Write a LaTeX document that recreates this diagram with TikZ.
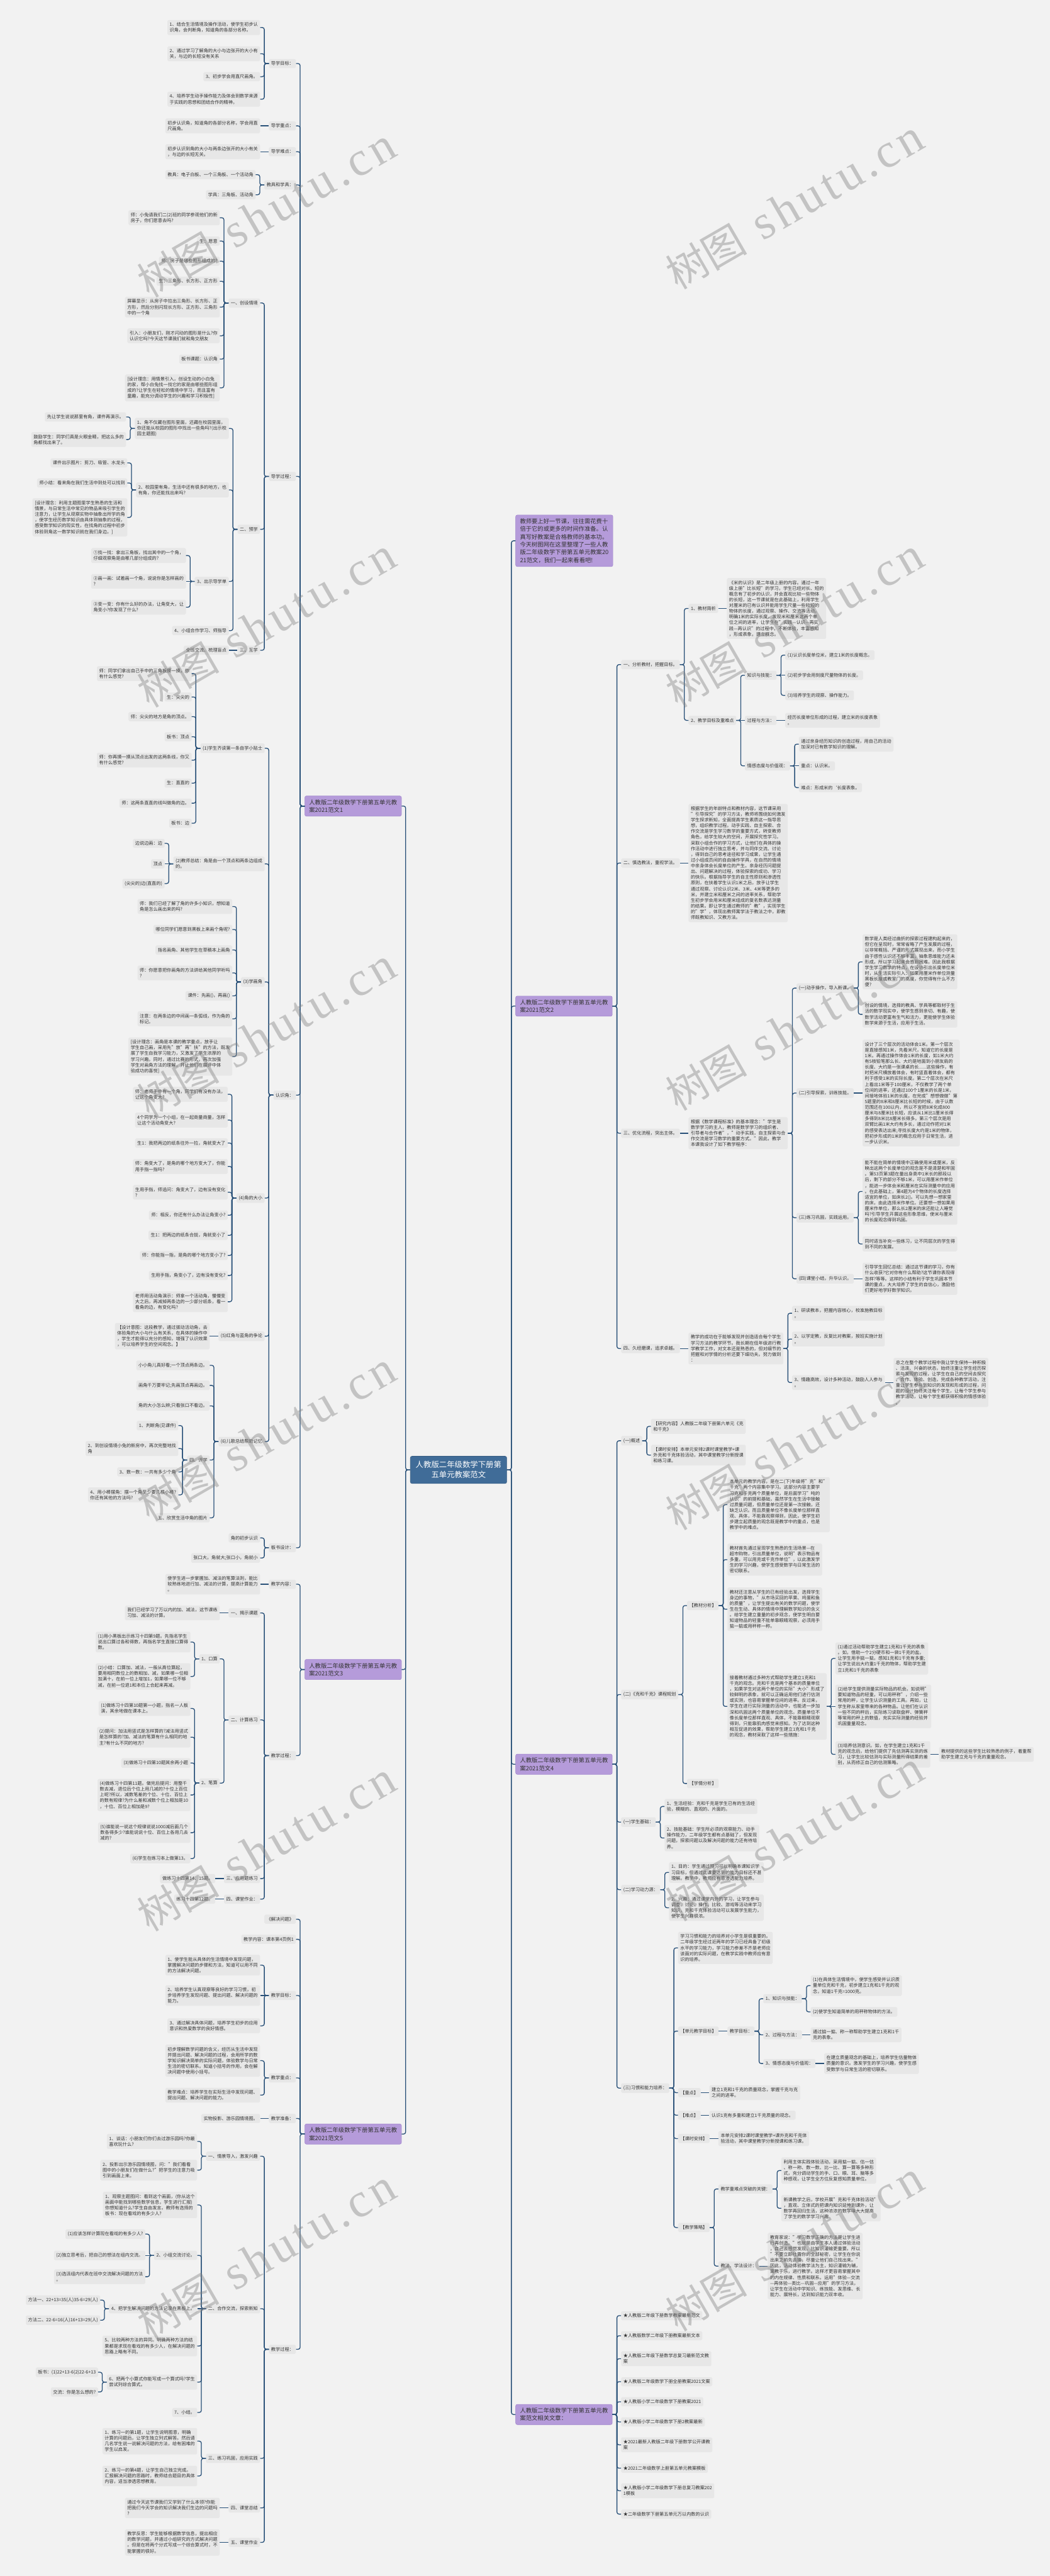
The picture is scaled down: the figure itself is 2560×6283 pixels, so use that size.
\documentclass[tikz,border=0pt]{standalone}
\usepackage{fontspec}
\setmainfont{Noto Sans CJK SC}
\newfontfamily\wmlatin[LetterSpace=8]{Liberation Serif}
\usetikzlibrary{calc}
\definecolor{bgc}{RGB}{242,242,242}
\definecolor{nodefill}{RGB}{231,231,231}
\definecolor{txt}{RGB}{51,51,51}
\definecolor{linec}{RGB}{40,80,120}
\definecolor{purp}{RGB}{181,155,218}
\definecolor{purpd}{RGB}{160,132,205}
\definecolor{rootc}{RGB}{64,108,152}
\definecolor{wmc}{RGB}{130,130,130}
\tikzset{
 box/.style={fill=nodefill, rounded corners=3pt, inner xsep=5.5pt, inner ysep=6pt, align=left, font=\fontsize{11}{14}\selectfont, text=txt},
 pbox/.style={fill=purp, draw=purpd, line width=0.8pt, rounded corners=4pt, inner xsep=10.5pt, inner ysep=8.5pt, align=left, font=\fontsize{14.3}{19}\selectfont, text=txt},
 rootbox/.style={fill=rootc, draw=rootc!85!black, line width=0.8pt, rounded corners=4pt, inner xsep=13pt, inner ysep=12pt, align=center, font=\fontsize{19}{24.7}\selectfont, text=white},
 conn/.style={draw=linec, line width=2pt, rounded corners=5pt},
 wm/.style={rotate=30, text=wmc, text opacity=0.42, inner sep=0pt, font=\fontsize{100}{100}\selectfont}
}
% left child: style, name, parent, y, text
\newcommand\LN[5][box]{\path let \p1=(#3.west) in node[#1,anchor=east] (#2) at (\x1-21pt,-#4pt) {#5};\draw[conn] (#3.west) -- ++(-11pt,0) |- (#2.east);}
\newcommand\LNs[4][box]{\path let \p1=(#3.west) in node[#1,anchor=east] (#2) at (\x1-21pt,\y1) {#4};\draw[conn] (#3.west) -- (#2.east);}
\newcommand\RN[5][box]{\path let \p1=(#3.east) in node[#1,anchor=west] (#2) at (\x1+21pt,-#4pt) {#5};\draw[conn] (#3.east) -- ++(11pt,0) |- (#2.west);}
\newcommand\RNs[4][box]{\path let \p1=(#3.east) in node[#1,anchor=west] (#2) at (\x1+21pt,\y1) {#4};\draw[conn] (#3.east) -- (#2.west);}
\begin{document}
\begin{tikzpicture}
\useasboundingbox (0,0) rectangle (2560pt,-6283pt);
\fill[bgc] (0,0) rectangle (2560pt,-6283pt);
\node[rootbox] (root) at (1118pt,-3585pt) {人教版二年级数学下册第\\五单元教案范文};
%================ 范文1 ================
\LN[pbox]{fa}{root}{1966}{人教版二年级数学下册第五单元教\\案2021范文1}
\LN{a1}{fa}{155}{导学目标：}
\LN{a1a}{a1}{67}{1、结合生活情境及操作活动，使学生初步认\\识角，会判断角，知道角的各部分名称。}
\LN{a1b}{a1}{131}{2、通过学习了解角的大小与边张开的大小有\\关，与边的长短没有关系}
\LN{a1c}{a1}{187}{3、初步学会用直尺画角。}
\LN{a1d}{a1}{242}{4、培养学生动手操作能力及体会到数学来源\\于实践的思想和团结合作的精神。}
\LN{a2}{fa}{307}{导学重点：}
\LNs{a2a}{a2}{初步认识角，知道角的各部分名称，学会用直\\尺画角。}
\LN{a3}{fa}{370}{导学难点：}
\LNs{a3a}{a3}{初步认识到角的大小与两条边张开的大小有关\\，与边的长短无关。}
\LN{a4}{fa}{451}{教具和学具：}
\LN{a4a}{a4}{426}{教具：电子白板、一个三角板、一个活动角}
\LN{a4b}{a4}{475}{学具：三角板、活动角}
\LN{a5}{fa}{1162}{导学过程：}
\LN{a51}{a5}{739}{一、创设情境}
\LN{a51a}{a51}{531}{师：小兔请我们二(2)班的同学参观他们的新\\房子，你们愿意去吗?}
\LN{a51b}{a51}{588}{生：愿意}
\LN{a51c}{a51}{637}{师：房子是哪些图形组成的?}
\LN{a51d}{a51}{686}{生：三角形、长方形、正方形}
\LN{a51e}{a51}{749}{屏幕显示：从房子中拉出三角形、长方形、正\\方形，然后分别闪现长方形、正方形、三角形\\中的一个角}
\LN{a51f}{a51}{819}{引入：小朋友们，刚才闪动的图形是什么?你\\认识它吗?今天这节课我们就和角交朋友}
\LN{a51g}{a51}{876}{板书课题：认识角}
\LN{a51h}{a51}{946}{[设计理念：用情景引入，创设生动的小白兔\\的家，帮小白兔找一找它的家是由哪些图形组\\成的?让学生在轻松的情境中学习，而且富有\\童趣，能充分调动学生的兴趣和学习积极性]}
\LN{a52}{a5}{1291}{二、预学}
\LN{a52a}{a52}{1045}{1、角不仅藏在图形里面，还藏在校园里面，\\你还能从校园的图形中找出一些角吗?(出示校\\园主题图)}
\LN{a52a1}{a52a}{1017}{先让学生说说那里有角，课件再演示。}
\LN{a52a2}{a52a}{1072}{鼓励学生：同学们真是火眼金睛，把这么多的\\角都找出来了。}
\LN{a52b}{a52}{1195}{2、校园里有角，生活中还有很多的地方，也\\有角，你还能找出来吗?}
\LN{a52b1}{a52b}{1129}{课件出示图片：剪刀、吸管、水龙头}
\LN{a52b2}{a52b}{1178}{师小结：看来角在我们生活中到处可以找到}
\LN{a52b3}{a52b}{1262}{[设计理念：利用主题图里学生熟悉的生活和\\情景，与日常生活中常见的物品来吸引学生的\\注意力，让学生从观察实物中抽象出所学的角\\，使学生经历数学知识由具体到抽象的过程，\\感受数学知识的现实性，在找角的过程中初步\\体验到角这一数学知识就在我们身边。]}
\LN{a52c}{a52}{1418}{3、出示导学单}
\LN{a52c1}{a52c}{1355}{①找一找：拿出三角板，找出其中的一个角，\\仔细观察角是由哪几部分组成的?}
\LNs{a52c2}{a52c}{②画一画：试着画一个角，说说你是怎样画的\\?}
\LN{a52c3}{a52c}{1481}{③变一变：你有什么好的办法，让角变大，让\\角变小?你发现了什么?}
\LN{a52d}{a52}{1538}{4、小组合作学习、师指导}
\LN{a53}{a5}{1586}{三、互学}
\LNs{a53a}{a53}{全班交流、梳理盲点}
\LN{a6}{fa}{2671}{认识角：}
\LN{a61}{a6}{1825}{(1)学生齐读第一条自学小贴士}
\LN{a61a}{a61}{1643}{师：同学们拿出自己手中的三角板摸一摸，你\\有什么感觉?}
\LN{a61b}{a61}{1700}{生：尖尖的}
\LN{a61c}{a61}{1748}{师：尖尖的地方是角的顶点。}
\LN{a61d}{a61}{1797}{板书：顶点}
\LN{a61e}{a61}{1854}{师：你再摸一摸从顶点出发的这两条线，你又\\有什么感觉?}
\LN{a61f}{a61}{1910}{生：直直的}
\LN{a61g}{a61}{1959}{师：这两条直直的线叫做角的边。}
\LN{a61h}{a61}{2008}{板书：边}
\LN{a62}{a6}{2107}{(2)教师总结：角是由一个顶点和两条边组成\\的。}
\LN{a62a}{a62}{2057}{边说边画：边}
\LNs{a62b}{a62}{顶点}
\LN{a62c}{a62}{2155}{(尖尖的)边(直直的)}
\LN{a63}{a6}{2395}{(3)学画角}
\LN{a63a}{a63}{2211}{师：我们已经了解了角的许多小知识，想知道\\角是怎么画出来的吗?}
\LN{a63b}{a63}{2267}{哪位同学们愿意到黑板上来画个角呢?}
\LN{a63c}{a63}{2317}{指名画角、其他学生在草稿本上画角}
\LN{a63d}{a63}{2373}{师：你愿意把你画角的方法讲给其他同学听吗\\?}
\LN{a63e}{a63}{2429}{课件：先画()，再画()}
\LN{a63f}{a63}{2485}{注意：在两条边的中间画一条弧线，作为角的\\标记。}
\LN{a63g}{a63}{2577}{[设计理念：画角是本课的教学重点，放手让\\学生自己画，采用先"放"再"扶"的方法，既发\\展了学生自我学习能力，又激发了学生浓厚的\\学习兴趣。同时，通过比赛的形式，再次加强\\学生对画角方法的理解，并让他们在展评中体\\验成功的喜悦]}
\LN{a64}{a6}{2922}{(4)角的大小}
\LN{a64a}{a64}{2669}{师：老师手中有一个角，同学们有没有办法，\\让这个角变大?}
\LN{a64b}{a64}{2732}{4个同学为一个小组，在一起商量商量，怎样\\让这个活动角变大?}
\LN{a64c}{a64}{2788}{生1：我把两边的纸条往外一拉，角就变大了}
\LN{a64d}{a64}{2845}{师：角变大了，是角的哪个地方变大了，你能\\用手指一指吗?}
\LN{a64e}{a64}{2908}{生用手指，师追问：角变大了，边有没有变化\\?}
\LN{a64f}{a64}{2964}{师：相反，你还有什么办法让角变小?}
\LN{a64g}{a64}{3013}{生1：把两边的纸条合拢，角就变小了}
\LN{a64h}{a64}{3062}{师：你能指一指，是角的哪个地方变小了?}
\LN{a64i}{a64}{3111}{生用手指，角变小了，边有没有变化?}
\LN{a64j}{a64}{3175}{老师用活动角演示：师拿一个活动角，慢慢变\\大之后，再减掉两条边的一少部分纸条，看一\\看角的边，有变化吗?}
\LN{a65}{a6}{3259}{(5)红角与蓝角的争论}
\LNs{a65a}{a65}{【设计意图：这段教学，通过拔动活动角，去\\体验角的大小与什么有关系，在具体的操作中\\，学生才能得以充分的感知，增强了认识效果\\，可以培养学生的空间观念。】}
\LN{a66}{a6}{3516}{(6)儿歌总结帮助记忆}
\LN{a66a}{a66}{3330}{小小角儿真好看;一个顶点两条边。}
\LN{a66b}{a66}{3379}{画角千万要牢记;先画顶点再画边。}
\LN{a66c}{a66}{3429}{角的大小怎么辨;只看张口不看边。}
\LN{a66d}{a66}{3561}{四、评学}
\LN{a66d1}{a66d}{3477}{1、判断角(见课件)}
\LN{a66d2}{a66d}{3533}{2、到创设情境小兔的新房中，再次完整地找\\角}
\LN{a66d3}{a66d}{3590}{3、数一数：一共有多少个角}
\LN{a66d4}{a66d}{3646}{4、用小棒摆角：摆一个角至少要几根小棒?\\你还有其他的方法吗?}
\LN{a66e}{a66}{3702}{五、欣赏生活中角的图片}
\LN{a7}{fa}{3775}{板书设计：}
\LN{a7a}{a7}{3751}{角的初步认识}
\LN{a7b}{a7}{3800}{张口大，角就大;张口小，角就小}
%================ 范文3 ================
\LN[pbox]{fc}{root}{4072}{人教版二年级数学下册第五单元教\\案2021范文3}
\LN{c1}{fc}{3864}{教学内容：}
\LNs{c1a}{c1}{使学生进一步掌握加、减法的笔算法则，能比\\较熟练地进行加、减法的计算，提高计算能力\\。}
\LN{c2}{fc}{4282}{教学过程：}
\LN{c21}{c2}{3934}{一、揭示课题}
\LNs{c21a}{c21}{我们已经学习了万以内的加、减法，这节课练\\习加、减法的计算。}
\LN{c22}{c2}{4195}{二、计算练习}
\LN{c221}{c22}{4046}{1、口算}
\LN{c221a}{c221}{4005}{(1)用小黑板出示练习十四第9题。先指名学生\\说出口算过各和得数，再指名学生直接口算得\\数。}
\LN{c221b}{c221}{4089}{(2)小结：口算加、减法，一般从高位算起，\\要用相同数位上的数相加、减，如果哪一位相\\加满十，在前一位上增加1，如果哪一位不够\\减，在前一位退1和本位上合起来再减。}
\LN{c222}{c22}{4349}{2、笔算}
\LN{c222a}{c222}{4167}{(1)做练习十四第10题第一小题，指名一人板\\演，其余地做在课本上。}
\LN{c222b}{c222}{4237}{(2)提问：加法用竖式是怎样算的?减法用竖式\\是怎样算的?加、减法的笔算有什么相同的地\\主?有什么不同的地方?}
\LN{c222c}{c222}{4300}{(3)做练习十四第10题其余两小题}
\LN{c222d}{c222}{4378}{(4)做练习十四第11题。做完后提问：用整千\\数去减，退位后个位上用几减的?十位上百位\\上呢?所以，减数笔差的个位、十位、百位上\\的数有规律?为什么差和减数个位上相加是10\\，十位、百位上相加是9?}
\LN{c222e}{c222}{4470}{(5)谁能说一说这个规律说说1000减后面几个\\数各得多少?谁能说说十位、百位上各用几去\\减的?}
\LN{c222f}{c222}{4533}{(6)学生在练习本上做第13。}
\LN{c23}{c2}{4582}{三、应用题练习}
\LNs{c23a}{c23}{做练习十四第14、15题。}
\LN{c24}{c2}{4632}{四、课堂作业：}
\LNs{c24a}{c24}{练习十四第12题。}
%================ 范文5 ================
\LN[pbox]{fe}{root}{5205}{人教版二年级数学下册第五单元教\\案2021范文5}
\LN{e1}{fe}{4681}{《解决问题》}
\LN{e2}{fe}{4730}{教学内容：课本第4页例1}
\LN{e3}{fe}{4867}{教学目标：}
\LN{e3a}{e3}{4793}{1、使学生能从具体的生活情境中发现问题，\\掌握解决问题的步骤和方法，知道可以用不同\\的方法解决问题。}
\LNs{e3b}{e3}{2、培养学生认真观察等良好的学习习惯，初\\步培养学生发现问题、提出问题、解决问题的\\能力。}
\LN{e3c}{e3}{4941}{3、通过解决具体问题，培养学生初步的应用\\意识和热爱数学的良好情感。}
\LN{e4}{fe}{5068}{教学重点：}
\LN{e4a}{e4}{5026}{初步理解数学问题的含义，经历从生活中发现\\并提出问题、解决问题的过程，会用所学的数\\学知识解决简单的实际问题，体验数学与日常\\生活的密切联系。知道小括号的作用，会在解\\决问题中使用小括号。}
\LN{e4b}{e4}{5110}{教学难点：培养学生在实际生活中发现问题、\\提出问题、解决问题的能力。}
\LN{e5}{fe}{5167}{教学准备：}
\LNs{e5a}{e5}{实物投影、游乐园情境图。}
\LN{e6}{fe}{5730}{教学过程：}
\LN{e61}{e6}{5259}{一、情景导入，激发兴趣}
\LN{e61a}{e61}{5223}{1、谈话：小朋友们你们去过游乐园吗?你最\\喜欢玩什么?}
\LN{e61b}{e61}{5293}{2、投影出示游乐园情境图，问："我们看看\\图中的小朋友们在做什么?"把学生的注意力吸\\引到画面上来。}
\LN{e62}{e6}{5631}{二、合作交流，探索新知}
\LN{e62a}{e62}{5378}{1、观察主题图问：看到这个画面，(你从这个\\画面中能找到哪些数学信息，学生进行汇报)\\你想知道什么?学生自由发言。教师有选择的\\板书：现在看戏的有多少人?}
\LN{e62b}{e62}{5501}{2、小组交流讨论。}
\LN{e62b1}{e62b}{5449}{(1)应该怎样计算现在看戏的有多少人?}
\LNs{e62b2}{e62b}{(2)独立思考后，把自己的想法在组内交流。}
\LN{e62b3}{e62b}{5553}{(3)选派组内代表在班中交流解决问题的方法\\。}
\LNs{e62c}{e62}{4、把学生解决问题的方法记录在黑板上。}
\LN{e62c1}{e62c}{5610}{方法一、22+13=35(人)35-6=29(人)}
\LN{e62c2}{e62c}{5659}{方法二、22-6=16(人)16+13=29(人)}
\LN{e62d}{e62}{5722}{5、比较两种方法的异同。明确两种方法的结\\果都是求现在看戏的有多少人，在解决问题的\\思路上略有不同。}
\LN{e62e}{e62}{5810}{6、把两个小算式你能写成一个算式吗?学生\\尝试列综合算式。}
\LN{e62e1}{e62e}{5786}{板书：(1)22+13-6(2)22-6+13}
\LN{e62e2}{e62e}{5834}{交流：你是怎么想的?}
\LN{e62f}{e62}{5884}{7、小结。}
\LN{e63}{e6}{5996}{三、练习巩固，应用实践}
\LN{e63a}{e63}{5954}{1、练习一的第1题，让学生说明图意，明确\\计算的问题后，让学生独立列式解答。然后请\\几名学生说一说解决问题的方法，给有困难的\\学生以启发。}
\LN{e63b}{e63}{6039}{2、练习一的第4题，让学生自己独立完成。\\汇报解决问题的思路时，教师结合题目的具体\\内容，适当渗透思想教育。}
\LN{e64}{e6}{6117}{四、课堂总结}
\LNs{e64a}{e64}{通过今天这节课我们又学到了什么本领?你能\\把我们今天学会的知识解决我们生边的问题吗\\?}
\LN{e65}{e6}{6201}{五、课堂作业}
\LNs{e65a}{e65}{教学反思：学生能够根据数学信息，提出相应\\的数学问题，并通过小组研究的方式解决问题\\。但是在将两个分式写成一个综合算式时，不\\能掌握的很好。}
%================ description ================
\RN[pbox]{desc}{root}{1319}{教师要上好一节课，往往需花费十\\倍于它的或更多的时间作准备。认\\真写好教案是合格教师的基本功。\\今天树图网在这里整理了一些人教\\版二年级数学下册第五单元教案20\\21范文，我们一起来看看吧!}
%================ 范文2 ================
\RN[pbox]{fb}{root}{2454}{人教版二年级数学下册第五单元教\\案2021范文2}
\RN{b1}{fb}{1621}{一、分析教材，把握目标。}
\RN{b11}{b1}{1484}{1、教材简析}
\RNs{b11a}{b11}{《米的认识》是二年级上册的内容。通过一年\\级上册"比长短"的学习，学生已经对长、短的\\概念有了初步的认识，并会直观比较一些物体\\的长短，这一节课就是在此基础上，利用学生\\对厘米的已有认识并能用学生尺量一些较短的\\物体的长度，通过观察、操作、交流等活动，\\明确1米的实际长度，发现米和厘米这两个单\\位之间的进率，让学生在"实践—认识—再实\\践—再认识"的过程中，不断体验，丰富感知\\，形成表象，建立概念。}
\RN{b12}{b1}{1757}{2、教学目标及重难点}
\RN{b121}{b12}{1647}{知识与技能：}
\RN{b121a}{b121}{1598}{(1)认识长度单位米，建立1米的长度概念。}
\RNs{b121b}{b121}{(2)初步学会用刻度尺量物体的长度。}
\RN{b121c}{b121}{1696}{(3)培养学生的观察、操作能力。}
\RNs{b122}{b12}{过程与方法：}
\RNs{b122a}{b122}{经历长度单位形成的过程，建立米的长度表象\\。}
\RN{b123}{b12}{1868}{情感态度与价值观：}
\RN{b123a}{b123}{1815}{通过亲身经历知识的创造过程，用自己的活动\\加深对已有数学知识的理解。}
\RNs{b123b}{b123}{重点：认识米。}
\RN{b123c}{b123}{1921}{难点：形成米的`长度表象。}
\RN{b2}{fb}{2105}{二、慎选教法，重视学法。}
\RNs{b2a}{b2}{根据学生的年龄特点和教材内容，这节课采用\\"引导探究"的学习方法，教师将围绕如何激发\\学生探求新知，全面提高学生素质这一指导思\\想，组织教学过程。动手实践、自主探索、合\\作交流是学生学习数学的重要方式，转变教师\\角色，给学生较大的空间，开展探究性学习。\\采取小组合作的学习方式，让他们在具体的操\\作活动中进行独立思考，并与同伴交流、讨论\\，得到自己的思考途径和学习成果，让学生通\\过小组成员间的自由操作学具，在自然的情境\\中亲身体会长度单位的产生。亲身经历问题提\\出、问题解决的过程，体验探索的成功、学习\\的快乐。根据指导学生的自主性原则和渗透性\\原则，在扶着学生认识1米之后，放手让学生\\通过观察、讨论认识2米、3米、4米等更多的\\米，并建立米和厘米之间的进率关系，帮助学\\生初步学会用米和厘米组成的复名数表达测量\\的结果。即让学生通过教师的"教"，实现学生\\的"学"，体现出教师寓学法于教法之中，即教\\师既教知识、又教方法。}
\RN{b3}{fb}{2764}{三、优化流程，突出主体。}
\RNs{b3a}{b3}{根据《数学课程标准》的基本理念："学生是\\数学学习的主人，教师是数学学习的组织者、\\引导者与合作者"，"动手实践，自主探索与合\\作交流是学习数学的重要方式。"因此，教学\\本课我设计了如下教学程序：}
\RN{b31}{b3a}{2410}{(一)动手操作，导入新课。}
\RN{b31a}{b31}{2346}{数学是人类经过曲折的探索过程建构起来的，\\但它在呈现时，常常省略了产生发展的过程，\\以非常概括、严谨的形式展现出来，而小学生\\由于感性认识还不够丰富，抽象思维能力还未\\形成，所以学习起来会感到困难。因此我根据\\学生学习数学的特点，在设计引出长度单位米\\时，从生活实际引入：如果用厘米作单位测量\\黑板长度或教室门的高度，你觉得有什么不方\\便?}
\RN{b31b}{b31}{2474}{创设的情境，选择的教具、学具等都取材于生\\活的数学现实中，使学生感到亲切、有趣，使\\数学活动更富有生气和活力，更能使学生体验\\数学来源于生活，应用于生活。}
\RN{b32}{b3a}{2666}{(二)引导探索，训练技能。}
\RNs{b32a}{b32}{设计了三个层次的活动体会1米。第一个层次\\是直接感知1米，先看米尺，知道它的长度是\\1米。再通过操作体会1米的长度，如1米大约\\有5枝铅笔那么长、大约是地面到小朋友肩的\\长度、大约是一张课桌的长......这些操作，有\\时把米尺横放着体会，有时竖直着体会，都有\\利于感受1米的实际长度。第二个层次在米尺\\上看出1米等于100厘米，不仅教学了两个单\\位间的进率，还通过100个1厘米的长是1米，\\间接地体验1米的长度。在完成"想想做做"第\\5题里的8米和8厘米比长短的时候，由于认数\\范围还在100以内，所以不宜把8米化成800\\厘米与8厘米比长短，应该从1米比1厘米长得\\多得到8米比8厘米长得多。第三个层次是用\\双臂比画1米大约有多长，通过动作把对1米\\的感受表达出来;寻找长度大约是1米的物体，\\把初步形成的1米的概念应用于日常生活，进\\一步认识米。}
\RN{b33}{b3a}{2970}{(三)练习巩固，实践运用。}
\RN{b33a}{b33}{2906}{能不能在简单的情境中正确使用米或厘米，反\\映出这两个长度单位的观念是不是清楚和牢固\\。第53页第3题在量出身高中1米长的那段以\\后，剩下的部分不够1米，可以用厘米作单位\\，能进一步体会米和厘米在实际测量中的应用\\。在此基础上，第4题为4个物体的长度选择\\适宜的单位，如床长2()。可以先想一想家里\\的床，由此选择米作单位。还要想一想如果用\\厘米作单位，那么长2厘米的床还能让人睡觉\\吗?引导学生开展这些形象思维，使米与厘米\\的长度观念得到巩固。}
\RN{b33b}{b33}{3034}{同时适当补充一些练习，让不同层次的学生得\\到不同的发展。}
\RN{b34}{b3a}{3119}{(四)课堂小结，升华认识。}
\RNs{b34a}{b34}{引导学生回忆总结：通过这节课的学习，你有\\什么收获?它对你有什么帮助?这节课你表现得\\怎样?等等。这样的小结有利于学生巩固本节\\课的重点，大大培养了学生的自信心，激励他\\们更好地学好数学知识。}
\RN{b4}{fb}{3289}{四、久经磨课，追求卓越。}
\RNs{b4a}{b4}{教学的成功在于能够发现并创造适合每个学生\\学习方法的教学环节。我长期在低年级进行教\\学教学工作，对文本还是熟悉的，但对细节的\\把握和对学情的分析还要下细功夫。努力做到\\：}
\RN{b41}{b4a}{3203}{1、研读教本，把握内容核心，校准施教目标\\。}
\RN{b42}{b4a}{3266}{2、以学定教，反复比对教案，按班实施计划\\。}
\RN{b43}{b4a}{3372}{3、情趣高效，设计多种活动，鼓励人人参与\\。}
\RNs{b43a}{b43}{总之在整个教学过程中我让学生保持一种积极\\、活泼、兴奋的状态，始终注重让学生经历探\\索与发现的过程，让学生在自己的空间去探究\\、合作、体验、创造，完成各种教学活动，注\\重让学生参与到知识的发现和形成的过程，问\\题的设计始终关注每个学生，让每个学生参与\\教学活动，让每个学生都获得积极的情感体验\\。}
%================ 范文4 ================
\RN[pbox]{fd}{root}{4303}{人教版二年级数学下册第五单元教\\案2021范文4}
\RN{d1}{fd}{3514}{(一)概述}
\RN{d1a}{d1}{3479}{【研究内容】人教版二年级下册第六单元《克\\和千克》}
\RN{d1b}{d1}{3549}{【课时安排】本单元安排2课时课堂教学+课\\外克和千克体验活动，其中课堂教学分新授课\\和练习课。}
\RN{d2}{fd}{4133}{(二)《克和千克》课程规划}
\RN{d21}{d2}{3916}{【教材分析】}
\RN{d21a}{d21}{3670}{本单元的教学内容，是在二(下)年级将"克"和"\\千克"两个内容集中学习。这部分内容主要学\\习克和千克两个质量单位，是后面学习"吨的\\认识"的前提和基础，虽然学生在生活中接触\\过质量问题，但质量单位还是第一次接触，还\\缺乏认识。而且质量单位不像长度单位那样直\\观、具体，不能靠观察得到，因此，使学生初\\步建立起质量的观念既是教学中的重点，也是\\教学中的难点。}
\RN{d21b}{d21}{3804}{教材首先通过呈现学生熟悉的生活场景—在\\超市购物，引出质量单位，说明"表示物品有\\多重，可以用克或千克作单位"，以此激发学\\生的学习兴趣，使学生感受数学与日常生活的\\密切联系。}
\RN{d21c}{d21}{3925}{教材还注意从学生的已有经验出发，选择学生\\身边的事物，"从市场买回的苹果、鸡蛋和鱼\\的质量"，让学生提出有关的数学问题，使学\\生在生动、具体的情境中理解数学知识的含义\\。给学生建立重量的初步观念，使学生明白要\\知道物品的轻重不能单靠眼睛观察，必须用手\\掂一掂或用秤称一称。}
\RN{d21d}{d21}{4162}{接着教材通过多种方式帮助学生建立1克和1\\千克的观念。克和千克是两个基本的质量单位\\，如果学生对这两个单位的实际"大小"形成了\\较鲜明的表象，就可以正确运用他们进行估测\\或实测，也容易掌握单位间的进率。反过来，\\学生在进行实际测量的活动中，也能进一步加\\深和巩固这两个质量单位的观念。质量单位不\\像长度单位那样直观、具体，不能靠眼睛观察\\得到，只能靠肌肉感觉来感知。为了达到这种\\相互促进的效果，帮助学生建立1克和1千克\\的观念，教材采取了这样一些措施：}
\RN{d21d1}{d21d}{4045}{(1)通过活动帮助学生建立1克和1千克的表象\\。如，借助一个2分硬币和一袋1千克的盐，\\让学生用手掂一掂，感知1克和1千克有多重;\\让学生说出大约重1千克的物体，帮助学生建\\立1克和1千克的表象}
\RNs{d21d2}{d21d}{(2)给学生提供测量实际物品的机会。如说明"\\要知道物品的轻重，可以用秤称"，介绍一些\\常用的秤，让学生认识测量的工具。再如，让\\学生称从家里带来的各种物品。让他们在认识\\一些不同的秤后，实际练习读取盘秤、弹簧秤\\等常用的秤上的数值，充实实际测量的经验并\\巩固重量观念。}
\RN{d21d3}{d21d}{4279}{(3)培养估测意识。如，在学生建立1克和1千\\克的观念后，给他们提供了先估测再实测的练\\习，让学生比较估测与实际测量所得结果的差\\别，从而修正自己的估测策略。}
\RNs{d21d3a}{d21d3}{教材提供的这些学生比较熟悉的例子，着重帮\\助学生建立克与千克的重量观念。}
\RN{d22}{d2}{4350}{【学情分析】}
\RN{d3}{fd}{4444}{(一)学生基础：}
\RN{d3a}{d3}{4406}{1、生活经验：克和千克是学生已有的生活经\\验，模糊的、直观的、片面的。}
\RN{d3b}{d3}{4483}{2、技能基础：学生所必须的观察能力、动手\\操作能力，二年级学生都有点基础了，但发现\\问题，探索问题以及解决问题的能力还有待培\\养。}
\RN{d4}{fd}{4609}{(二)学习动力源：}
\RN{d4a}{d4}{4567}{1、目的：学生通过预习可以明确本课知识学\\习目标，但通过此课要达到的能力目标还不甚\\理解。教学中，教师应有意渗透能力培养。}
\RN{d4b}{d4}{4653}{2、兴趣：通过课堂内外的学习，让学生参与\\调查、讨论、操作、比较、游戏等活动来学习\\知识，克和千克体验活动可以发展学生能力，\\使学生兴趣很浓。}
\RN{d5}{fd}{5093}{(三)习惯和能力培养：}
\RN{d5a}{d5}{4751}{学习习惯和能力的培养对小学生是很重要的。\\二年级学生经过近两年的学习已经具备了初级\\水平的学习能力，学习能力参差不齐是老师应\\该面对的实际问题，在教学实践中教师应有意\\识的培养。}
\RN{d5b}{d5}{4954}{【单元教学目标】}
\RNs{d5b1}{d5b}{教学目标：}
\RN{d5b11}{d5b1}{4875}{1、知识与技能：}
\RN{d5b11a}{d5b11}{4843}{(1)在具体生活情境中，使学生感受并认识质\\量单位克和千克，初步建立1克和1千克的观\\念，知道1千克=1000克。}
\RN{d5b11b}{d5b11}{4907}{(2)使学生知道简单的用秤称物体的方法。}
\RN{d5b12}{d5b1}{4963}{2、过程与方法：}
\RNs{d5b12a}{d5b12}{通过掂一掂、称一称帮助学生建立1克和1千\\克的表象。}
\RN{d5b13}{d5b1}{5033}{3、情感态度与价值观：}
\RNs{d5b13a}{d5b13}{在建立质量观念的基础上，培养学生估量物体\\质量的意识。激发学生的学习兴趣，使学生感\\受数学与日常生活的密切联系。}
\RN{d5c}{d5}{5104}{【重点】}
\RNs{d5c1}{d5c}{建立1克和1千克的质量观念，掌握千克与克\\之间的进率。}
\RN{d5d}{d5}{5159}{【难点】}
\RNs{d5d1}{d5d}{认识1克有多重和建立1千克质量的观念。}
\RN{d5e}{d5}{5216}{【课时安排】}
\RNs{d5e1}{d5e}{本单元安排2课时课堂教学+课外克和千克体\\验活动，其中课堂教学分新授课和练习课。}
\RN{d5f}{d5}{5433}{【教学策略】}
\RN{d5f1}{d5f}{5339}{教学重难点突破的关键：}
\RN{d5f1a}{d5f1}{5294}{利用主体实践体验活动，采用掂一掂、估一估\\、称一称、数一数、比一比、算一算等多种形\\式，充分调动学生的手、口、眼、耳、脑等多\\种感观，让学生全方位反复感知质量单位。}
\RN{d5f1b}{d5f1}{5386}{新课教学之后，学校开展"克和千克体验活动"\\，直观、立体式的把课内知识延伸到课外，让\\数学再回归生活，这种浓浓的数学味大大提高\\了学生的数学学习兴趣。}
\RN{d5f2}{d5f}{5527}{教法、学法设计：}
\RNs{d5f2a}{d5f2}{教育家说："学习数学正确的方法是让学生进\\行再创造。"也就是由学生本人通过体验活动\\，自己去感觉发现，比知识灌输更重要。所以\\"不要立即吐露你的全部秘密，让学生在你说\\出来之前先去猜，尽量让他们自己找出来。"\\因此，活动体验教学法为主，知识灌输为辅，\\寓教于乐，进行教学。这样才更容易掌握其中\\的内在规律、性质和联系。运用"体验—交流\\—再体验—类比—巩固—应用"的学习方法，\\让学生在活动中学知识、练技能、发思维、长\\能力、展特长，达到知识能力双丰收。}
%================ 相关文章 ================
\RN[pbox]{ff}{root}{5889}{人教版二年级数学下册第五单元教\\案范文相关文章：}
\RN{ffa}{ff}{5648}{★人教版二年级下册数学教案最新范文}
\RN{ffb}{ff}{5697}{★人教版数学二年级下册教案最新文本}
\RN{ffc}{ff}{5753}{★人教版二年级下册数学总复习最新范文教\\案}
\RN{ffd}{ff}{5809}{★人教版二年级数学下册全册教案2021文案}
\RN{ffe}{ff}{5858}{★人教版小学二年级数学下册教案2021}
\RN{fff}{ff}{5907}{★人教版小学二年级数学下册2教案最新}
\RN{ffg}{ff}{5963}{★2021最新人教版二年级下册数学公开课教\\案}
\RN{ffh}{ff}{6020}{★2021二年级数学上册第五单元教案模板}
\RN{ffi}{ff}{6075}{★人教版小学二年级数学下册总复习教案202\\1模板}
\RN{ffj}{ff}{6132}{★二年级数学下册第五单元万以内数的认识}
%================ watermarks ================
\foreach \wx/\wy in {650/520,650/1520,650/2520,650/3505,650/4505,650/5500,1938/500,1938/1520,1938/2503,1938/3526,1938/4480,1938/5480}
  \node[wm] at (\wx pt,-\wy pt) {树图\hspace{40pt}{\wmlatin\fontsize{118}{118}\selectfont shutu.cn}};
\end{tikzpicture}
\end{document}
